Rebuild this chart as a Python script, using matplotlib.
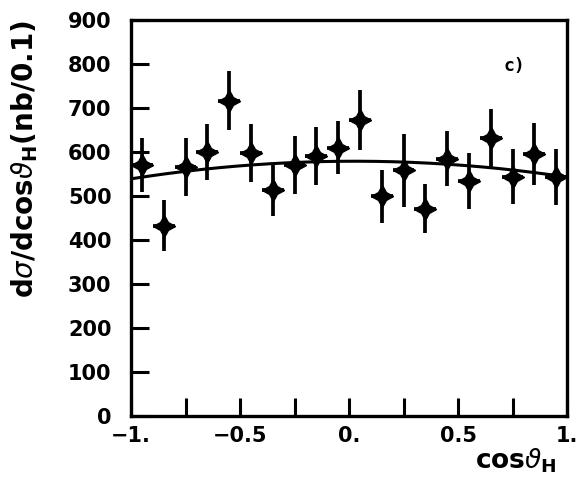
import numpy as np
import matplotlib
matplotlib.use("Agg")
import matplotlib.pyplot as plt

plt.rcParams['mathtext.fontset'] = 'dejavusans'

# bin centres in cos(theta_H), 0.1 wide
cos_h = [-0.95, -0.85, -0.75, -0.65, -0.55, -0.45, -0.35, -0.25, -0.15, -0.05,
         0.05, 0.15, 0.25, 0.35, 0.45, 0.55, 0.65, 0.75, 0.85, 0.95]
dsigma = [570, 432, 565, 600, 716, 598, 514, 570, 590, 610,
          672, 499, 558, 471, 585, 534, 632, 544, 596, 543]
dsigma_err = [62, 58, 66, 63, 67, 66, 60, 66, 66, 60,
              68, 60, 82, 56, 62, 63, 66, 62, 70, 63]
bin_half = 0.05

# quadratic fit a + b*x + c*x^2
fit_a, fit_b, fit_c = 579.0, 2.0, -38.0

fig = plt.figure(figsize=(5.88, 4.96), dpi=100)
ax = fig.add_axes([0.2228, 0.1613, 0.7415, 0.7984])

x = np.linspace(-1, 1, 200)
ax.plot(x, fit_a + fit_b * x + fit_c * x**2, color='black', lw=2.2, zorder=2)

ax.errorbar(cos_h, dsigma, yerr=dsigma_err, xerr=bin_half, fmt='none',
            ecolor='black', elinewidth=2.7, capsize=0, zorder=3)
ax.plot(cos_h, dsigma, linestyle='none', marker=(4, 1, 0), markersize=16,
        color='black', zorder=4)

ax.set_xlim(-1, 1)
ax.set_ylim(0, 900)
ax.set_xticks([-1, -0.75, -0.5, -0.25, 0, 0.25, 0.5, 0.75, 1])
ax.set_xticklabels(['\u22121.', '', '\u22120.5', '', '0.', '', '0.5', '', '1.'])
ax.set_yticks(range(0, 1000, 100))
ax.set_yticklabels([str(v) for v in range(0, 1000, 100)])

for side in ax.spines.values():
    side.set_linewidth(2.4)
ax.tick_params(axis='both', direction='in', length=13, width=2.2,
               labelsize=15)
ax.tick_params(axis='y', pad=14)
ax.tick_params(axis='x', pad=7)
for lab in ax.get_xticklabels() + ax.get_yticklabels():
    lab.set_fontweight('bold')

fig.text(0.042, 0.68, r'd$\sigma$/dcos$\vartheta_{\mathbf{H}}$(nb/0.1)',
         rotation=90, ha='center', va='center', fontsize=20,
         fontweight='bold')
fig.text(0.878, 0.072, r'cos$\vartheta_{\mathbf{H}}$', ha='center',
         va='center', fontsize=19, fontweight='bold')
ax.text(0.88, 0.885, 'c)', transform=ax.transAxes, ha='center', va='center',
        fontsize=13, family='DejaVu Sans Mono', fontweight='bold')

fig.savefig('out.png', dpi=100)
